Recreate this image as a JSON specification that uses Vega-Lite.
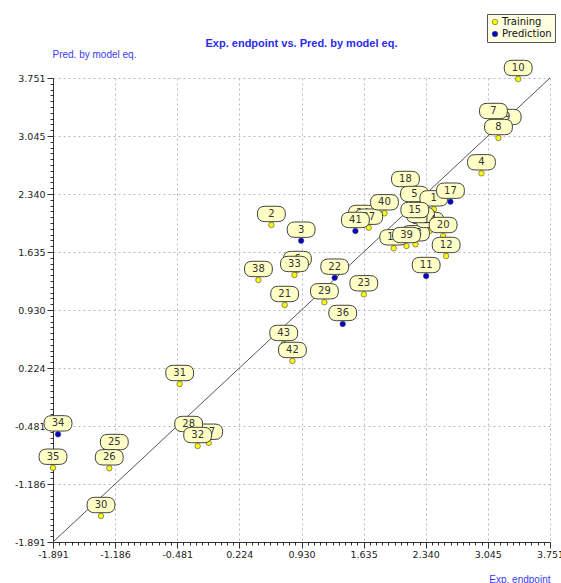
{
  "$schema": "https://vega.github.io/schema/vega-lite/v6.json",
  "width": 497,
  "height": 464,
  "autosize": "none",
  "padding": {"left": 53, "top": 78, "right": 11, "bottom": 41},
  "background": "white",
  "config": {"view": {"stroke": null}, "font": "DejaVu Sans"},
  "title": {"text": "Exp. endpoint vs. Pred. by model eq.", "anchor": "middle", "offset": -35, "font": "Liberation Sans", "fontSize": 11, "fontWeight": "bold", "color": "#2B2BEE"},
  "data": {"values": [
    {"id": 1, "set": "Training", "exp": 2.432, "pred": 2.154},
    {"id": 2, "set": "Training", "exp": 0.588, "pred": 1.964},
    {"id": 3, "set": "Prediction", "exp": 0.926, "pred": 1.773},
    {"id": 4, "set": "Training", "exp": 2.973, "pred": 2.592},
    {"id": 5, "set": "Training", "exp": 2.212, "pred": 2.207},
    {"id": 6, "set": "Training", "exp": 0.884, "pred": 1.416},
    {"id": 7, "set": "Training", "exp": 3.109, "pred": 3.216},
    {"id": 8, "set": "Training", "exp": 3.166, "pred": 3.021},
    {"id": 9, "set": "Training", "exp": 3.265, "pred": 3.143},
    {"id": 10, "set": "Training", "exp": 3.39, "pred": 3.739},
    {"id": 11, "set": "Prediction", "exp": 2.345, "pred": 1.343},
    {"id": 12, "set": "Training", "exp": 2.572, "pred": 1.587},
    {"id": 13, "set": "Training", "exp": 2.224, "pred": 1.729},
    {"id": 14, "set": "Training", "exp": 2.386, "pred": 1.891},
    {"id": 15, "set": "Prediction", "exp": 2.216, "pred": 2.012},
    {"id": 16, "set": "Training", "exp": 1.977, "pred": 1.68},
    {"id": 17, "set": "Prediction", "exp": 2.621, "pred": 2.247},
    {"id": 18, "set": "Training", "exp": 2.11, "pred": 2.389},
    {"id": 19, "set": "Training", "exp": 2.281, "pred": 1.951},
    {"id": 20, "set": "Training", "exp": 2.538, "pred": 1.83},
    {"id": 21, "set": "Training", "exp": 0.739, "pred": 0.991},
    {"id": 22, "set": "Prediction", "exp": 1.307, "pred": 1.323},
    {"id": 23, "set": "Training", "exp": 1.637, "pred": 1.121},
    {"id": 24, "set": "Training", "exp": 1.622, "pred": 1.976},
    {"id": 25, "set": "Training", "exp": -1.195, "pred": -0.809},
    {"id": 26, "set": "Training", "exp": -1.252, "pred": -0.995},
    {"id": 27, "set": "Training", "exp": -0.124, "pred": -0.684},
    {"id": 28, "set": "Training", "exp": -0.351, "pred": -0.59},
    {"id": 29, "set": "Training", "exp": 1.19, "pred": 1.024},
    {"id": 30, "set": "Training", "exp": -1.346, "pred": -1.575},
    {"id": 31, "set": "Training", "exp": -0.453, "pred": 0.03},
    {"id": 32, "set": "Training", "exp": -0.249, "pred": -0.724},
    {"id": 33, "set": "Training", "exp": 0.85, "pred": 1.356},
    {"id": 34, "set": "Prediction", "exp": -1.834, "pred": -0.582},
    {"id": 35, "set": "Training", "exp": -1.891, "pred": -0.988},
    {"id": 36, "set": "Prediction", "exp": 1.398, "pred": 0.76},
    {"id": 37, "set": "Training", "exp": 1.693, "pred": 1.931},
    {"id": 38, "set": "Training", "exp": 0.441, "pred": 1.295},
    {"id": 39, "set": "Training", "exp": 2.122, "pred": 1.708},
    {"id": 40, "set": "Training", "exp": 1.872, "pred": 2.106},
    {"id": 41, "set": "Prediction", "exp": 1.542, "pred": 1.891},
    {"id": 42, "set": "Training", "exp": 0.827, "pred": 0.31},
    {"id": 43, "set": "Training", "exp": 0.728, "pred": 0.517}
  ]},
  "encoding": {
    "x": {"field": "exp", "type": "quantitative",
      "scale": {"domain": [-1.891, 3.751], "nice": false, "zero": false},
      "axis": {
        "values": [-1.891,-1.8205,-1.75,-1.6794,-1.6089,-1.5384,-1.4679,-1.3973,-1.3268,-1.2563,-1.186,-1.1152,-1.0447,-0.9742,-0.9037,-0.8331,-0.7626,-0.6921,-0.6216,-0.551,-0.481,-0.41,-0.3395,-0.2689,-0.1984,-0.1279,-0.0574,0.0132,0.0837,0.1542,0.224,0.2953,0.3658,0.4363,0.5069,0.5774,0.6479,0.7184,0.789,0.8595,0.93,1.0005,1.0711,1.1416,1.2121,1.2826,1.3532,1.4237,1.4942,1.5647,1.635,1.7058,1.7763,1.8468,1.9174,1.9879,2.0584,2.1289,2.1995,2.27,2.34,2.411,2.4816,2.5521,2.6226,2.6931,2.7637,2.8342,2.9047,2.9752,3.045,3.1163,3.1868,3.2573,3.3279,3.3984,3.4689,3.5394,3.61,3.6805,3.751],
        "labelExpr": "indexof([-1.891,-1.186,-0.481,0.224,0.93,1.635,2.34,3.045,3.751], datum.value) >= 0 ? replace(format(datum.value, '.3f'), '\u2212', '-') : ''",
        "labelOverlap": false, "labelFlush": false,
        "labelFont": "DejaVu Sans", "labelFontSize": 9.5, "labelColor": "#222", "labelPadding": 1,
        "tickSize": {"condition": {"test": "indexof([-1.891,-1.186,-0.481,0.224,0.93,1.635,2.34,3.045,3.751], datum.value) >= 0", "value": 6}, "value": 3},
        "tickColor": "#333", "domainColor": "#333",
        "grid": true,
        "gridOpacity": {"condition": {"test": "indexof([-1.891,-1.186,-0.481,0.224,0.93,1.635,2.34,3.045,3.751], datum.value) >= 0", "value": 1}, "value": 0},
        "gridDash": [2, 3], "gridColor": "#b8b8b8",
        "title": "Exp. endpoint", "titleColor": "#3A3AF0", "titleFont": "Liberation Sans", "titleFontSize": 10, "titleFontWeight": "normal",
        "titleX": 497, "titleY": 37, "titleAlign": "right", "titleBaseline": "middle", "titleAngle": 0
      }},
    "y": {"field": "pred", "type": "quantitative",
      "scale": {"domain": [-1.891, 3.751], "nice": false, "zero": false},
      "axis": {
        "values": [-1.891,-1.8205,-1.75,-1.6794,-1.6089,-1.5384,-1.4679,-1.3973,-1.3268,-1.2563,-1.186,-1.1152,-1.0447,-0.9742,-0.9037,-0.8331,-0.7626,-0.6921,-0.6216,-0.551,-0.481,-0.41,-0.3395,-0.2689,-0.1984,-0.1279,-0.0574,0.0132,0.0837,0.1542,0.224,0.2953,0.3658,0.4363,0.5069,0.5774,0.6479,0.7184,0.789,0.8595,0.93,1.0005,1.0711,1.1416,1.2121,1.2826,1.3532,1.4237,1.4942,1.5647,1.635,1.7058,1.7763,1.8468,1.9174,1.9879,2.0584,2.1289,2.1995,2.27,2.34,2.411,2.4816,2.5521,2.6226,2.6931,2.7637,2.8342,2.9047,2.9752,3.045,3.1163,3.1868,3.2573,3.3279,3.3984,3.4689,3.5394,3.61,3.6805,3.751],
        "labelExpr": "indexof([-1.891,-1.186,-0.481,0.224,0.93,1.635,2.34,3.045,3.751], datum.value) >= 0 ? replace(format(datum.value, '.3f'), '\u2212', '-') : ''",
        "labelOverlap": false, "labelFlush": false,
        "labelFont": "DejaVu Sans", "labelFontSize": 9.5, "labelColor": "#222", "labelPadding": 2,
        "tickSize": {"condition": {"test": "indexof([-1.891,-1.186,-0.481,0.224,0.93,1.635,2.34,3.045,3.751], datum.value) >= 0", "value": 6}, "value": 3},
        "tickColor": "#333", "domainColor": "#333",
        "grid": true,
        "gridOpacity": {"condition": {"test": "indexof([-1.891,-1.186,-0.481,0.224,0.93,1.635,2.34,3.045,3.751], datum.value) >= 0", "value": 1}, "value": 0},
        "gridDash": [2, 3], "gridColor": "#b8b8b8",
        "title": "Pred. by model eq.", "titleColor": "#3A3AF0", "titleFont": "Liberation Sans", "titleFontSize": 10, "titleFontWeight": "normal",
        "titleX": -1, "titleY": -24, "titleAlign": "left", "titleBaseline": "middle", "titleAngle": 0
      }}
  },
  "layer": [
    {
      "data": {"values": [{"exp": -1.891, "pred": -1.891}, {"exp": 3.751, "pred": 3.751}]},
      "mark": {"type": "line", "color": "#555555", "strokeWidth": 1},
      "encoding": {}
    },
    {
      "mark": {"type": "point", "shape": "circle", "filled": true, "size": 30, "opacity": 1, "stroke": "#444444", "strokeWidth": 0.6},
      "encoding": {
        "color": {"field": "set", "type": "nominal",
          "scale": {"domain": ["Training", "Prediction"], "range": ["#FFFF00", "#0000CC"]},
          "legend": {"orient": "none", "legendX": 434, "legendY": -64, "title": null,
            "fillColor": "#FFFFE1", "strokeColor": "#555555", "padding": 3,
            "labelFont": "DejaVu Sans", "labelFontSize": 10, "labelColor": "#111111", "labelOffset": 2,
            "symbolType": "circle", "symbolSize": 30, "symbolStrokeColor": "#333333", "symbolStrokeWidth": 0.5,
            "rowPadding": 2}}
      }
    },
    {
      "transform": [{"filter": "indexof([24,14,19,13,18], datum.id) >= 0"}],
      "mark": {"type": "point", "shape": "M-0.45,-0.55L0.45,-0.55Q1,-0.55,1,0Q1,0.55,0.45,0.55L-0.45,0.55Q-1,0.55,-1,0Q-1,-0.55,-0.45,-0.55Z", "size": 784, "filled": true, "fill": "#FFFFC6", "stroke": "#444444", "strokeWidth": 1, "opacity": 1, "yOffset": -11}
    },
    {
      "transform": [{"filter": "indexof([24,14,19,13,18], datum.id) >= 0"}],
      "mark": {"type": "text", "yOffset": -11, "font": "DejaVu Sans", "fontSize": 10, "color": "#333333", "baseline": "middle", "align": "center"},
      "encoding": {"text": {"field": "id", "type": "nominal"}}
    },
    {
      "transform": [{"filter": "indexof([5,6,9,16,25,27,28,37], datum.id) >= 0"}],
      "mark": {"type": "point", "shape": "M-0.45,-0.55L0.45,-0.55Q1,-0.55,1,0Q1,0.55,0.45,0.55L-0.45,0.55Q-1,0.55,-1,0Q-1,-0.55,-0.45,-0.55Z", "size": 784, "filled": true, "fill": "#FFFFC6", "stroke": "#444444", "strokeWidth": 1, "opacity": 1, "yOffset": -11}
    },
    {
      "transform": [{"filter": "indexof([5,6,9,16,25,27,28,37], datum.id) >= 0"}],
      "mark": {"type": "text", "yOffset": -11, "font": "DejaVu Sans", "fontSize": 10, "color": "#333333", "baseline": "middle", "align": "center"},
      "encoding": {"text": {"field": "id", "type": "nominal"}}
    },
    {
      "transform": [{"filter": "indexof([24,14,19,13,18,5,6,9,16,25,27,28,37], datum.id) < 0"}],
      "mark": {"type": "point", "shape": "M-0.45,-0.55L0.45,-0.55Q1,-0.55,1,0Q1,0.55,0.45,0.55L-0.45,0.55Q-1,0.55,-1,0Q-1,-0.55,-0.45,-0.55Z", "size": 784, "filled": true, "fill": "#FFFFC6", "stroke": "#444444", "strokeWidth": 1, "opacity": 1, "yOffset": -11}
    },
    {
      "transform": [{"filter": "indexof([24,14,19,13,18,5,6,9,16,25,27,28,37], datum.id) < 0"}],
      "mark": {"type": "text", "yOffset": -11, "font": "DejaVu Sans", "fontSize": 10, "color": "#333333", "baseline": "middle", "align": "center"},
      "encoding": {"text": {"field": "id", "type": "nominal"}}
    }
  ]
}
